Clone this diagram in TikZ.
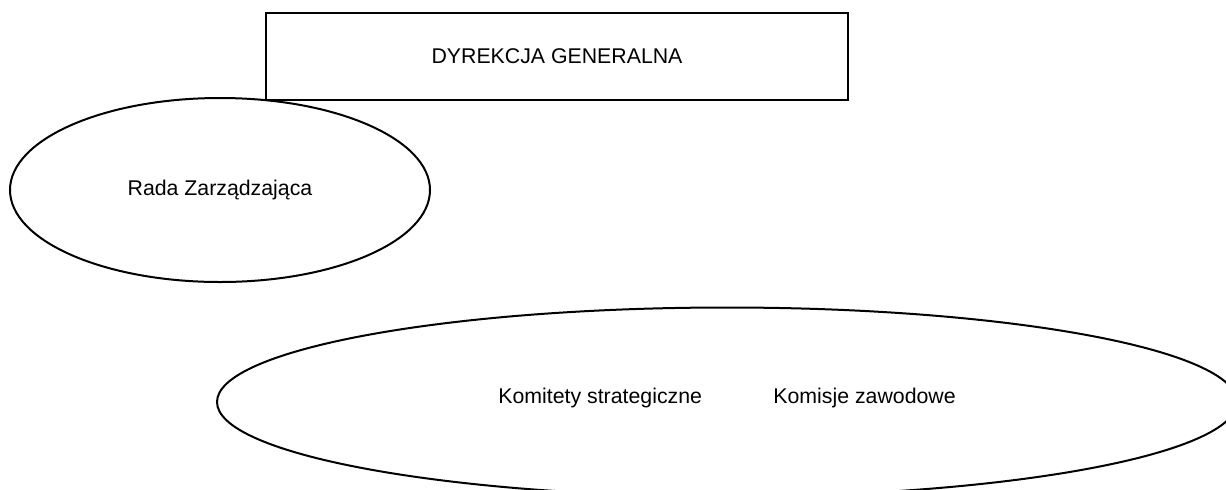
\documentclass[tikz,border=0pt]{standalone}
\usepackage{fontspec}
\setmainfont{Liberation Sans}
\usetikzlibrary{shapes.geometric}
\begin{document}
\begin{tikzpicture}[x=0.5pt,y=-0.5pt,
  frame/.style={draw=black, line width=1pt, inner sep=0pt},
  boxnode/.style={frame, rectangle, minimum width=291pt, minimum height=43.5pt},
  ovalnode/.style={frame, ellipse},
  lbl/.style={font=\fontsize{10.65pt}{12pt}\selectfont, inner sep=0pt, anchor=base}]
\useasboundingbox (0,0) rectangle (1226,489);
\clip (0,0) rectangle (1226,489);
\node[boxnode] (dg) at (557,56.5) {};
\node[lbl] (dgt) at (557,63) {DYREKCJA GENERALNA};
\node[ovalnode, minimum width=210pt, minimum height=92pt] (rz) at (220,190) {};
\node[lbl] (rzt) at (220,195) {Rada Zarządzająca};
\node[ovalnode, minimum width=510pt, minimum height=94.5pt] (kk) at (727,402) {};
\node[lbl, anchor=base west] (ks) at (498,403) {Komitety strategiczne};
\node[lbl, anchor=base west] (kz) at (773,403) {Komisje zawodowe};
\end{tikzpicture}
\end{document}
